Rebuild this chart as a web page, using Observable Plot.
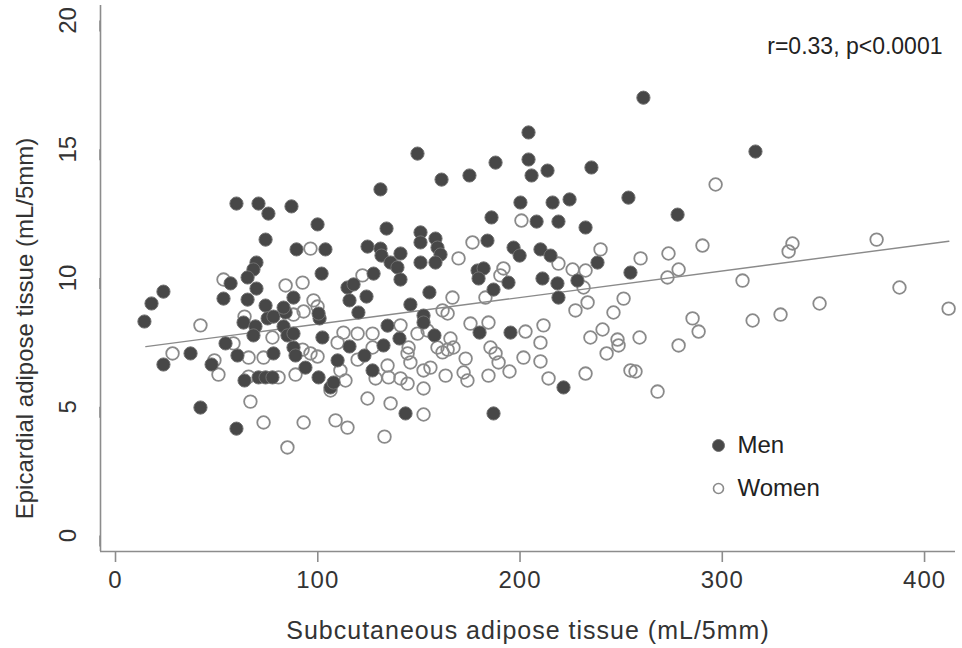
<!DOCTYPE html>
<html>
<head>
<meta charset="utf-8">
<script src="https://cdn.jsdelivr.net/npm/d3@7"></script>
<script src="https://cdn.jsdelivr.net/npm/@observablehq/plot@0.6"></script>
<style>
  html, body { margin: 0; padding: 0; background: #fff; }
  #chart { width: 962px; height: 648px; overflow: hidden; }
  .wide text { letter-spacing: 1px; }
</style>
</head>
<body>
<div id="chart"></div>
<script>
// ---- Data ----
const menX = [14.3,17.8,23.7,23.7,37.1,42.0,47.5,53.4,56.9,59.8,70.7,75.6,74.2,69.7,68.2,65.3,69.7,65.3,74.2,63.3,69.2,68.2,75.2,78.1,84.1,83.1,85.0,100.9,102.3,88.0,54.4,60.3,78.1,89.0,63.8,70.7,74.2,77.6,100.4,59.8,87.0,99.9,89.5,103.8,101.9,88.0,83.1,
  149.3,161.2,131.0,134.0,150.8,150.8,158.2,159.2,160.7,124.6,131.0,131.5,140.9,136.0,139.4,140.9,150.8,158.2,127.6,114.7,117.7,115.7,124.1,155.2,145.8,100.4,120.1,152.3,88.0,134.5,140.4,152.3,157.7,109.8,115.7,123.1,132.5,93.9,106.3,107.8,127.1,143.4,
  204.2,187.9,204.2,205.7,213.6,235.3,175.0,200.2,216.1,224.5,253.6,185.9,208.2,219.0,232.4,183.9,196.8,199.8,210.1,215.1,238.3,179.0,182.0,179.5,194.3,211.1,218.5,228.4,186.9,254.6,219.0,180.0,195.3,221.5,186.9,261.0,316.4,277.9];
const menY = [8.31,9.01,9.47,6.64,7.07,4.97,6.64,9.20,9.79,12.89,12.89,12.50,11.49,10.60,10.33,10.02,9.59,9.16,8.93,8.27,8.12,7.77,8.43,8.50,8.66,8.12,7.77,8.43,7.69,7.30,7.46,6.99,7.07,6.99,6.02,6.14,6.14,6.14,6.14,4.15,12.78,12.08,11.11,11.11,10.17,9.24,8.85,
  14.83,13.82,13.44,11.92,11.77,11.38,11.53,11.18,10.91,11.22,11.14,10.87,10.95,10.60,10.41,9.94,10.60,10.60,10.17,9.63,9.75,9.13,9.28,9.44,8.97,8.62,8.66,8.54,7.84,8.15,7.65,8.27,7.77,6.80,7.34,6.99,7.38,6.52,5.75,5.94,6.41,4.74,
  15.65,14.48,14.60,13.98,14.17,14.29,13.98,12.93,12.93,13.05,13.12,12.35,12.19,12.19,11.96,11.45,11.18,10.87,11.11,10.87,10.60,10.29,10.37,9.98,9.82,9.98,9.79,9.90,9.55,10.21,9.24,7.88,7.88,5.75,4.74,17.0,14.91,12.46];

const womenX = [28.2,42.0,48.9,50.9,53.4,58.3,63.8,77.6,65.8,73.2,65.8,80.6,66.7,73.2,85.0,84.1,92.5,96.4,88.0,93.0,97.9,99.9,92.5,96.4,99.9,89.0,93.0,
  169.6,122.1,166.6,161.7,164.2,112.7,119.7,127.1,140.9,149.3,154.3,165.6,167.1,109.8,119.7,127.1,144.9,144.4,145.8,159.2,161.7,164.2,134.5,111.2,113.7,106.3,128.6,135.0,140.9,144.4,152.3,155.7,163.2,152.3,124.6,136.0,152.3,108.8,114.7,133.0,
  200.7,176.5,239.8,191.8,190.3,219.0,226.0,232.4,231.4,182.9,251.2,227.4,233.4,246.2,175.5,184.4,202.7,211.6,210.1,234.8,240.8,248.2,248.7,242.8,173.1,185.4,187.9,189.4,172.1,174.0,184.4,194.8,201.7,210.1,214.1,232.4,254.6,
  296.7,290.2,259.6,273.4,278.4,272.9,334.7,332.8,376.3,310.0,387.6,411.9,348.1,328.8,315.0,285.3,288.3,259.1,278.4,257.1,268.0];
const womenY = [7.07,8.16,6.80,6.25,9.94,7.46,8.50,7.69,6.91,6.91,6.17,6.14,5.20,4.39,3.42,9.71,9.82,11.14,8.58,8.70,9.13,8.89,7.22,7.07,6.95,6.25,4.39,
  10.76,10.10,9.24,8.74,8.62,7.88,7.84,7.84,8.16,7.84,7.96,7.65,7.30,7.49,6.83,7.30,7.30,7.07,6.72,7.30,7.11,7.22,6.60,6.41,6.02,5.63,6.10,6.14,6.10,5.90,6.41,6.52,6.21,5.71,5.32,5.13,4.70,4.47,4.19,3.84,
  12.23,11.38,11.11,10.37,10.10,10.56,10.33,10.29,9.63,9.24,9.20,8.74,9.05,8.66,8.23,8.27,7.92,8.16,7.49,7.69,8.00,7.61,7.38,7.07,6.87,7.30,7.07,6.72,6.33,6.02,6.21,6.37,6.91,6.76,6.10,6.29,6.41,
  13.63,11.26,10.76,10.95,10.33,10.02,11.34,11.03,11.49,9.90,9.63,8.81,9.01,8.58,8.35,8.43,7.92,7.69,7.38,6.37,5.59];

// fitted line: y = intercept + slope * x over the observed x range
const fitIntercept = 7.18;
const fitSlope = 0.01031;
const fitXRange = [15, 412];

const xTicks = [0, 100, 200, 300, 400];
const yTicks = [0, 5, 10, 15, 20];
const xDomain = [-7.42, 415.3];
const yDomain = [-0.62, 20.58];

const xLabel = "Subcutaneous adipose tissue (mL/5mm)";
const yLabel = "Epicardial adipose tissue (mL/5mm)";
const annotation = "r=0.33, p<0.0001";
const legendLabels = ["Men", "Women"];

// ---- Build tables ----
const men = menX.map((x, i) => ({x, y: menY[i]}));
const women = womenX.map((x, i) => ({x, y: womenY[i]}));
const fit = fitXRange.map(x => ({x, y: fitIntercept + fitSlope * x}));

const font = "'Liberation Sans', Arial, Helvetica, sans-serif";
const axisColor = "#8c8c8c";
const textColor = "#333";

const chart = Plot.plot({
  width: 962,
  height: 648,
  marginLeft: 100,
  marginRight: 7,
  marginTop: 5,
  marginBottom: 97,
  style: {fontFamily: font, background: "#fff"},
  x: {domain: xDomain},
  y: {domain: yDomain},
  marks: [
    Plot.ruleX([xDomain[0]], {stroke: axisColor, strokeWidth: 1.6}),
    Plot.ruleY([yDomain[0]], {stroke: axisColor, strokeWidth: 1.6}),
    Plot.axisX({ticks: xTicks, tickSize: 11, tickPadding: 8, stroke: axisColor, strokeWidth: 1.6,
      fontSize: 24, fill: textColor, lineAnchor: "top", tickFormat: d => String(d), label: null, className: "wide"}),
    Plot.axisY({ticks: yTicks, tickSize: 11, tickPadding: 21, stroke: axisColor, strokeWidth: 1.6,
      fontSize: 24, fill: textColor, rotate: -90, textAnchor: "middle", tickFormat: d => String(d), label: null}),
    Plot.text([xLabel], {frameAnchor: "bottom", dy: 79, fontSize: 25, fill: textColor, lineAnchor: "middle", className: "wide"}),
    Plot.text([yLabel], {frameAnchor: "left", rotate: -90, dx: -75, dy: 50, fontSize: 24, fill: textColor, textAnchor: "middle", lineAnchor: "middle"}),
    Plot.line(fit, {x: "x", y: "y", stroke: "#8a8a8a", strokeWidth: 1.4}),
    Plot.dot(women, {x: "x", y: "y", r: 6.3, stroke: "#8a8a8a", strokeWidth: 1.8, fill: "none"}),
    Plot.dot(men, {x: "x", y: "y", r: 6.6, fill: "#474747", stroke: "#707070", strokeWidth: 1}),
    Plot.text([annotation], {frameAnchor: "top-right", dx: -13, dy: 48, fontSize: 23, fill: "#222", textAnchor: "end", lineAnchor: "bottom"}),
    Plot.dot([legendLabels[0]], {frameAnchor: "top-left", dx: 618, dy: 440, r: 6, fill: "#474747", stroke: "#707070", strokeWidth: 1}),
    Plot.text([legendLabels[0]], {frameAnchor: "top-left", dx: 637, dy: 440, fontSize: 24, fill: "#222", textAnchor: "start", lineAnchor: "middle"}),
    Plot.dot([legendLabels[1]], {frameAnchor: "top-left", dx: 618, dy: 483, r: 5, fill: "none", stroke: "#8a8a8a", strokeWidth: 1.6}),
    Plot.text([legendLabels[1]], {frameAnchor: "top-left", dx: 637, dy: 483, fontSize: 24, fill: "#222", textAnchor: "start", lineAnchor: "middle"})
  ]
});
document.getElementById("chart").appendChild(chart);
</script>
</body>
</html>
